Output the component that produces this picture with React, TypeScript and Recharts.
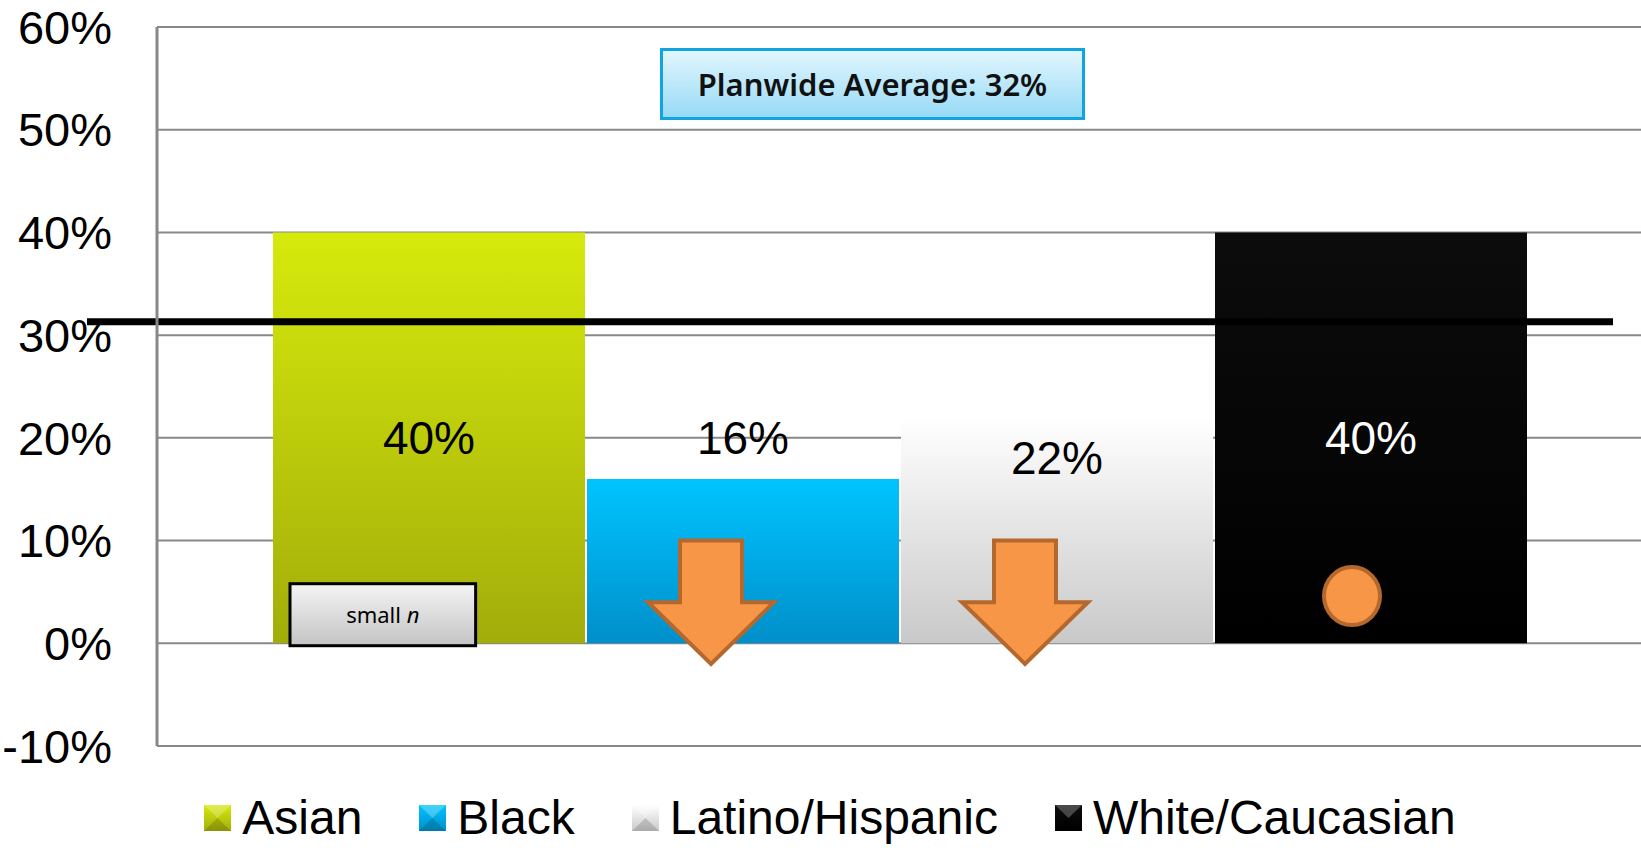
import React from 'react'
import { BarChart, Bar, XAxis, YAxis, CartesianGrid, ReferenceLine, Legend, LabelList } from 'recharts'

const groups = ['Asian', 'Black', 'Latino/Hispanic', 'White/Caucasian']
const seriesKeys = ['asian', 'black', 'latino', 'white']
const rates = [40, 16, 22, 40]
const marks = ['smallN', 'down', 'down', 'flat']
const yTicks = [-10, 0, 10, 20, 30, 40, 50, 60]
const planwideLine = 31.3
const planwideText = 'Planwide Average: 32%'

const topColors = ['#d6ea0c', '#00c4ff', '#ffffff', '#0c0c0c']
const bottomColors = ['#a2ad0a', '#008fca', '#c9c9c9', '#000000']
const labelColors = ['#000', '#000', '#000', '#fff']
const labelShift = [0, 0, 20, 0]

const W = 1641
const H = 848
const FONT = '"Liberation Sans", Arial, sans-serif'

const row: Record<string, any> = { group: 'all' }
seriesKeys.forEach((k, i) => { row[k] = rates[i] })
const data = [row]

const ORANGE = '#f79646'
const ORANGE_EDGE = '#b5682e'

function makeLabel(i: number) {
  return (props: any) => {
    const vb = props.viewBox || props
    const x = Number(vb.x), y = Number(vb.y), w = Number(vb.width), h = Number(vb.height)
    const v = Number(props.value)
    const y0 = y + h
    const px = h / v
    const cx = x + w / 2
    const ly = y0 - 20 * px + labelShift[i]
    const mark = marks[i]
    let markEl: React.ReactNode = null
    if (mark === 'down') {
      const ax = cx - 32
      const top = y0 - 10 * px
      const neck = y0 - 4 * px
      const tip = y0 + 2 * px
      const pts = [
        [ax - 31, top], [ax + 31, top], [ax + 31, neck], [ax + 63, neck],
        [ax, tip], [ax - 63, neck], [ax - 31, neck],
      ].map(p => p.join(',')).join(' ')
      markEl = <polygon points={pts} fill={ORANGE} stroke={ORANGE_EDGE} strokeWidth={4} strokeLinejoin="miter" />
    } else if (mark === 'flat') {
      markEl = <ellipse cx={cx - 19} cy={y0 - 4.6 * px} rx={28} ry={29} fill={ORANGE} stroke={ORANGE_EDGE} strokeWidth={4} />
    } else if (mark === 'smallN') {
      const bx = x + 17
      const bw = w * 0.595
      const by = y0 - 5.8 * px
      const bh = 62
      markEl = (
        <g>
          <rect x={bx} y={by} width={bw} height={bh} fill="url(#smallBox)" stroke="#000" strokeWidth={3} />
          <text x={bx + bw / 2} y={by + bh / 2 + 8} textAnchor="middle" fontFamily='"Noto Sans", sans-serif' fontSize={22} fill="#000">
            small <tspan fontStyle="italic">n</tspan>
          </text>
        </g>
      )
    }
    return (
      <g>
        {markEl}
        <text x={cx} y={ly} dy="0.36em" textAnchor="middle" fontFamily={FONT} fontSize={46} fill={labelColors[i]}>
          {`${v}%`}
        </text>
      </g>
    )
  }
}

function LegendRow() {
  return (
    <div style={{ display: 'flex', justifyContent: 'center', alignItems: 'center', width: W, boxSizing: 'border-box', paddingLeft: 19, fontFamily: FONT, fontSize: 48, lineHeight: '48px', color: '#000' }}>
      {groups.map((g, i) => (
        <div key={g} style={{ display: 'flex', alignItems: 'center', marginRight: i < groups.length - 1 ? 57 : 0 }}>
          <svg width={27} height={26} style={{ marginRight: 11 }}>
            <defs>
              <linearGradient id={`lg${i}`} x1="0" y1="0" x2="0" y2="1">
                <stop offset="0%" stopColor={topColors[i]} />
                <stop offset="100%" stopColor={bottomColors[i]} />
              </linearGradient>
            </defs>
            <rect x={0} y={0} width={27} height={26} fill={`url(#lg${i})`} />
            <polygon points="0,0 27,0 13.5,13 " fill="#fff" opacity={0.25} />
            <polygon points="0,26 27,26 13.5,13" fill="#000" opacity={0.15} />
          </svg>
          <span>{g}</span>
        </div>
      ))}
    </div>
  )
}

export default function App() {
  return (
    <div style={{ position: 'absolute', left: 0, top: 0, width: W, height: H, overflow: 'hidden', background: '#fff' }}>
      <BarChart width={W} height={H} data={data} margin={{ top: 27, right: 0, left: 0, bottom: 102 }} barCategoryGap={116} barGap={2}>
        <defs>
          {seriesKeys.map((k, i) => (
            <linearGradient key={k} id={`grad-${k}`} x1="0" y1="0" x2="0" y2="1">
              <stop offset="0%" stopColor={topColors[i]} />
              <stop offset="100%" stopColor={bottomColors[i]} />
            </linearGradient>
          ))}
          <linearGradient id="smallBox" x1="0" y1="0" x2="0" y2="1">
            <stop offset="0%" stopColor="#f4f4f4" />
            <stop offset="100%" stopColor="#c4c4c4" />
          </linearGradient>
        </defs>
        <CartesianGrid vertical={false} stroke="#888" strokeWidth={2} />
        <XAxis dataKey="group" hide />
        <YAxis
          domain={[-10, 60]}
          ticks={yTicks}
          interval={0}
          tickFormatter={(v: number) => `${v}%`}
          width={157}
          axisLine={{ stroke: '#888', strokeWidth: 3 }}
          tickLine={false}
          tickMargin={39}
          tick={{ fill: '#000', fontSize: 47, fontFamily: FONT }}
        />
        {seriesKeys.map((k, i) => (
          <Bar key={k} dataKey={k} name={groups[i]} fill={`url(#grad-${k})`} isAnimationActive={false}>
            <LabelList dataKey={k} content={makeLabel(i)} />
          </Bar>
        ))}
        <ReferenceLine
          y={planwideLine}
          shape={(p: any) => <line x1={87} x2={1613} y1={p.y1} y2={p.y1} stroke="#000" strokeWidth={7} />}
        />
        <Legend verticalAlign="middle" align="center" layout="horizontal" wrapperStyle={{ top: 794, left: 0, width: W }} content={() => <LegendRow />} />
      </BarChart>
      <div
        style={{
          position: 'absolute', left: 660, top: 48, width: 425, height: 72, boxSizing: 'border-box',
          border: '3px solid #12a4de', background: 'linear-gradient(#e2f6fe, #97daf6)',
          display: 'flex', alignItems: 'center', justifyContent: 'center',
          fontFamily: '"Noto Sans", sans-serif', fontWeight: 600, fontSize: 31, color: '#111',
        }}
      >
        {planwideText}
      </div>
    </div>
  )
}
